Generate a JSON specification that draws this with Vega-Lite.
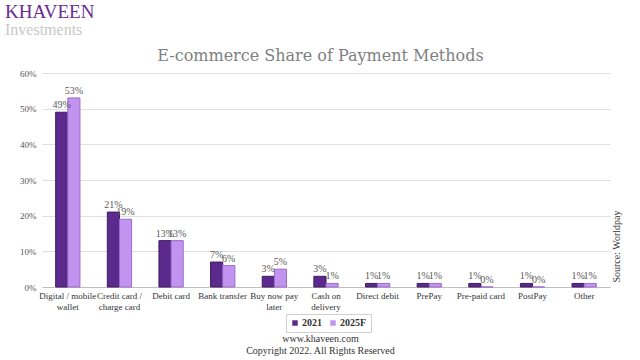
{
  "$schema": "https://vega.github.io/schema/vega-lite/v6.json",
  "width": 568,
  "height": 214,
  "autosize": {"type": "none"},
  "padding": {"left": 42, "top": 73, "right": 30, "bottom": 73},
  "background": "white",
  "title": {
    "text": "KHAVEEN",
    "subtitle": "Investments",
    "anchor": "start",
    "frame": "group",
    "dx": -37,
    "offset": 9,
    "font": "Liberation Serif",
    "fontSize": 19,
    "fontWeight": "normal",
    "color": "#6a2c91",
    "subtitleFont": "Liberation Serif",
    "subtitleFontSize": 16,
    "subtitleColor": "#c8c8c8",
    "subtitlePadding": 0
  },
  "data": {
    "values": [
      {"cat": "Digital / mobile|wallet", "year": "2021", "value": 0.49},
      {"cat": "Digital / mobile|wallet", "year": "2025F", "value": 0.53},
      {"cat": "Credit card /|charge card", "year": "2021", "value": 0.21},
      {"cat": "Credit card /|charge card", "year": "2025F", "value": 0.19},
      {"cat": "Debit card", "year": "2021", "value": 0.13},
      {"cat": "Debit card", "year": "2025F", "value": 0.13},
      {"cat": "Bank transfer", "year": "2021", "value": 0.07},
      {"cat": "Bank transfer", "year": "2025F", "value": 0.06},
      {"cat": "Buy now pay|later", "year": "2021", "value": 0.03},
      {"cat": "Buy now pay|later", "year": "2025F", "value": 0.05},
      {"cat": "Cash on|delivery", "year": "2021", "value": 0.03},
      {"cat": "Cash on|delivery", "year": "2025F", "value": 0.01},
      {"cat": "Direct debit", "year": "2021", "value": 0.01},
      {"cat": "Direct debit", "year": "2025F", "value": 0.01},
      {"cat": "PrePay", "year": "2021", "value": 0.01},
      {"cat": "PrePay", "year": "2025F", "value": 0.01},
      {"cat": "Pre-paid card", "year": "2021", "value": 0.01},
      {"cat": "Pre-paid card", "year": "2025F", "value": 0.0},
      {"cat": "PostPay", "year": "2021", "value": 0.01},
      {"cat": "PostPay", "year": "2025F", "value": 0.0},
      {"cat": "Other", "year": "2021", "value": 0.01},
      {"cat": "Other", "year": "2025F", "value": 0.01}
    ]
  },
  "layer": [
    {
      "mark": {"type": "bar", "strokeWidth": 1},
      "encoding": {
        "x": {
          "field": "cat",
          "type": "nominal",
          "sort": null,
          "scale": {"paddingInner": 0.53, "paddingOuter": 0.265},
          "axis": {
            "orient": "bottom",
            "labelAngle": 0,
            "labelExpr": "split(datum.label, '|')",
            "labelFont": "Liberation Serif",
            "labelFontSize": 9,
            "labelColor": "#333333",
            "labelLineHeight": 11,
            "labelPadding": 4,
            "ticks": false,
            "domainColor": "#bfbfbf",
            "title": ["www.khaveen.com", "Copyright 2022. All Rights Reserved"],
            "titleX": 278,
            "titleY": 46,
            "titleAlign": "center",
            "titleBaseline": "top",
            "titleFont": "Liberation Serif",
            "titleFontSize": 10,
            "titleFontWeight": "normal",
            "titleColor": "#333333",
            "titleLineHeight": 12
          }
        },
        "xOffset": {"field": "year", "type": "nominal", "sort": ["2021", "2025F"]},
        "y": {
          "field": "value",
          "type": "quantitative",
          "scale": {"domain": [0, 0.6]},
          "axis": {
            "orient": "left",
            "format": ".0%",
            "values": [0, 0.1, 0.2, 0.3, 0.4, 0.5, 0.6],
            "labelFont": "Liberation Serif",
            "labelFontSize": 9,
            "labelColor": "#555555",
            "ticks": false,
            "domain": false,
            "gridColor": "#e0e0e0",
            "labelPadding": 6,
            "title": "E-commerce Share of Payment Methods",
            "titleAngle": 0,
            "titleX": 278,
            "titleY": -18,
            "titleAlign": "center",
            "titleBaseline": "middle",
            "titleFont": "DejaVu Serif",
            "titleFontSize": 16,
            "titleFontWeight": "normal",
            "titleColor": "#7f7f7f"
          }
        },
        "color": {
          "field": "year",
          "type": "nominal",
          "scale": {"domain": ["2021", "2025F"], "range": ["#5b2a8c", "#c393f0"]},
          "legend": {
            "orient": "none",
            "legendX": 244,
            "legendY": 241,
            "direction": "horizontal",
            "title": null,
            "symbolType": "square",
            "symbolSize": 30,
            "symbolStrokeWidth": 0,
            "labelFont": "Liberation Serif",
            "labelFontSize": 10,
            "labelFontWeight": "bold",
            "labelColor": "#333333",
            "columnPadding": 6,
            "symbolOffset": 0,
            "labelOffset": 2,
            "padding": 4,
            "strokeColor": "#d0d0d0"
          }
        },
        "stroke": {
          "field": "year",
          "type": "nominal",
          "scale": {"domain": ["2021", "2025F"], "range": ["#3e1a63", "#9a6ccc"]},
          "legend": null
        }
      }
    },
    {
      "mark": {
        "type": "text",
        "baseline": "bottom",
        "dy": -2,
        "font": "Liberation Serif",
        "fontSize": 10,
        "color": "#595959"
      },
      "encoding": {
        "x": {
          "field": "cat",
          "type": "nominal",
          "sort": null,
          "axis": {
            "orient": "bottom",
            "labelAngle": 0,
            "labelExpr": "split(datum.label, '|')",
            "labelFont": "Liberation Serif",
            "labelFontSize": 9,
            "labelColor": "#333333",
            "labelLineHeight": 11,
            "labelPadding": 4,
            "ticks": false,
            "domainColor": "#bfbfbf",
            "title": ["www.khaveen.com", "Copyright 2022. All Rights Reserved"],
            "titleX": 278,
            "titleY": 46,
            "titleAlign": "center",
            "titleBaseline": "top",
            "titleFont": "Liberation Serif",
            "titleFontSize": 10,
            "titleFontWeight": "normal",
            "titleColor": "#333333",
            "titleLineHeight": 12
          }
        },
        "xOffset": {"field": "year", "type": "nominal", "sort": ["2021", "2025F"]},
        "y": {
          "field": "value",
          "type": "quantitative",
          "axis": {
            "orient": "right",
            "labels": false,
            "ticks": false,
            "domain": false,
            "grid": false,
            "title": "Source: Worldpay",
            "titleAngle": -90,
            "titleX": 6,
            "titleY": 173,
            "titleAlign": "center",
            "titleBaseline": "middle",
            "titleFont": "Liberation Serif",
            "titleFontSize": 10,
            "titleFontWeight": "normal",
            "titleColor": "#333333"
          }
        },
        "text": {"field": "value", "type": "quantitative", "format": ".0%"}
      }
    }
  ],
  "config": {
    "view": {"stroke": null}
  }
}
